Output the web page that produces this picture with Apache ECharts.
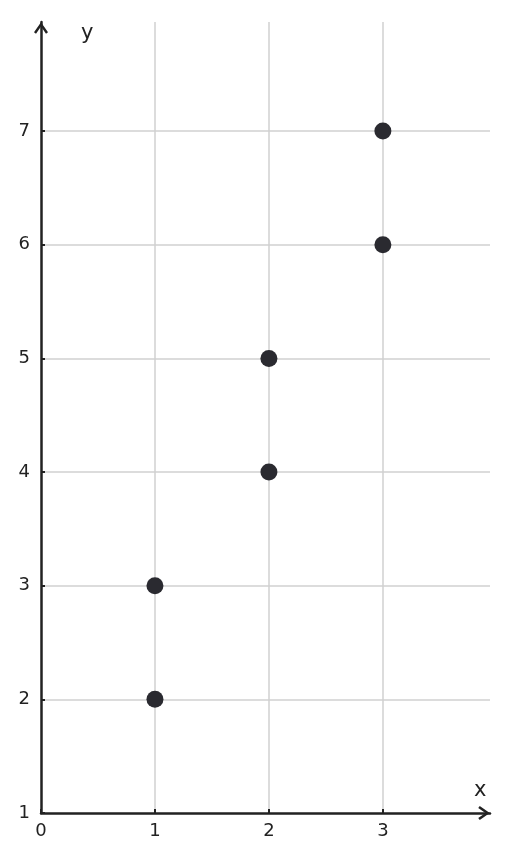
<!DOCTYPE html>
<html><head><meta charset="utf-8">
<script src="https://cdn.jsdelivr.net/npm/echarts@6/dist/echarts.min.js"></script>
<style>html,body{margin:0;padding:0;background:#fff}#c{width:514px;height:862px}</style>
</head><body><div id="c"></div>
<script>
const xValues = [1, 1, 2, 2, 3, 3];
const yValues = [2, 3, 4, 5, 6, 7];
const xTicks = [0, 1, 2, 3];
const yTicks = [1, 2, 3, 4, 5, 6, 7];
const xRange = [0, 3.94];
const yRange = [1, 7.96];
const points = xValues.map((x, i) => [x, yValues[i]]);
const chart = echarts.init(document.getElementById('c'));
const font = 'DejaVu Sans';
const chevron = 'path://M7,0 L14,10 L12,11.5 L7,4.3 L2,11.5 L0,10 Z';
chart.setOption({
  animation: false,
  grid: {left: 41, right: 24, top: 22, bottom: 49},
  xAxis: {
    type: 'value', min: xRange[0], max: xRange[1], interval: 1,
    axisLine: {show: true, onZero: false, symbol: ['none', chevron], symbolSize: [14, 12], symbolOffset: [0, -6], lineStyle: {color: '#222', width: 2.5}},
    axisTick: {show: true, inside: true, length: 4, lineStyle: {color: '#222', width: 2}},
    axisLabel: {margin: 9, color: '#222', fontSize: 18, fontFamily: font, showMaxLabel: false, formatter: v => xTicks.includes(v) ? String(v) : ''},
    splitLine: {show: true, showMinLine: false, showMaxLine: false, lineStyle: {color: '#d0d0d0', width: 1.5}}
  },
  yAxis: {
    type: 'value', min: yRange[0], max: yRange[1], interval: 1,
    axisLine: {show: true, onZero: false, symbol: ['none', chevron], symbolSize: [14, 12], symbolOffset: [0, -6], lineStyle: {color: '#222', width: 2.5}},
    axisTick: {show: true, inside: true, length: 4, lineStyle: {color: '#222', width: 2}},
    axisLabel: {margin: 11, color: '#222', fontSize: 18, fontFamily: font, showMaxLabel: false, formatter: v => yTicks.includes(v) ? String(v) : ''},
    splitLine: {show: true, showMinLine: false, showMaxLine: false, lineStyle: {color: '#d0d0d0', width: 1.5}}
  },
  graphic: [
    {type: 'text', left: 81, top: 23, style: {text: 'y', fontSize: 21, fontFamily: font, fill: '#222'}},
    {type: 'text', left: 474, top: 780, style: {text: 'x', fontSize: 21, fontFamily: font, fill: '#222'}}
  ],
  series: [{
    type: 'scatter', data: points, symbolSize: 17,
    itemStyle: {color: '#2a2a30', opacity: 1}
  }]
});
</script></body></html>
